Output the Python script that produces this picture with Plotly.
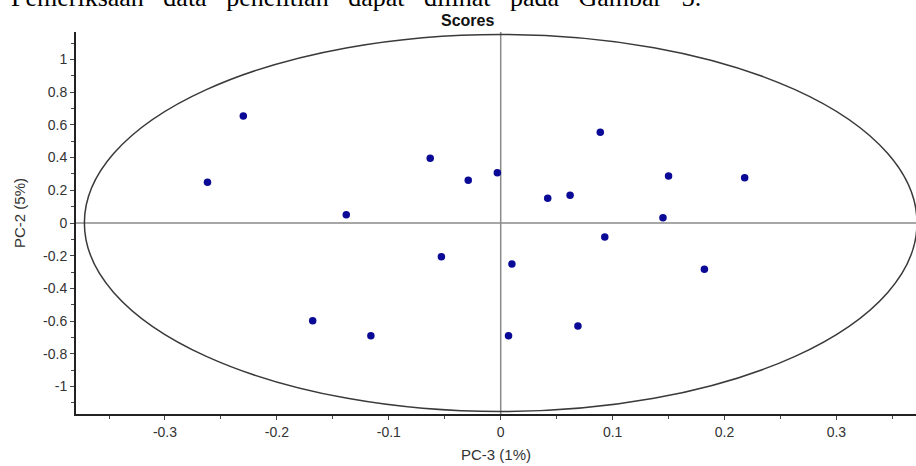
import plotly.graph_objects as go

# PCA scores (PC-3 on x, PC-2 on y)
pc3 = [-0.230, -0.262, -0.138, -0.063, -0.029, -0.003, 0.089, 0.042, 0.062, 0.150,
       0.218, 0.145, 0.093, 0.010, 0.182, -0.053, -0.168, -0.116, 0.007, 0.069]
pc2 = [0.654, 0.249, 0.051, 0.396, 0.261, 0.308, 0.555, 0.151, 0.169, 0.287,
       0.277, 0.032, -0.086, -0.251, -0.283, -0.206, -0.598, -0.689, -0.689, -0.630]

# Hotelling ellipse semi-axes
ell_a = 0.372
ell_b = 1.153

x_tick_vals = [-0.3, -0.2, -0.1, 0, 0.1, 0.2, 0.3]
x_tick_text = ["-0.3", "-0.2", "-0.1", "0", "0.1", "0.2", "0.3"]
y_tick_vals = [1, 0.8, 0.6, 0.4, 0.2, 0, -0.2, -0.4, -0.6, -0.8, -1]
y_tick_text = ["1", "0.8", "0.6", "0.4", "0.2", "0", "-0.2", "-0.4", "-0.6", "-0.8", "-1"]

caption_words = ["Pemeriksaan", "data", "penelitian", "dapat", "dilihat", "pada", "Gambar", "3."]

W, H = 916, 466
L, T, B = 76, 32, 52
PW, PH = W - L, H - T - B


def px(xpage):
    return (xpage - L) / PW


def py(ypage):
    return (H - B - ypage) / PH


fig = go.Figure()
fig.add_trace(go.Scatter(
    x=pc3, y=pc2, mode="markers",
    marker=dict(size=7.5, color="#0a0a96"),
    showlegend=False, hoverinfo="x+y"))

# ellipse
fig.add_shape(type="circle", xref="x", yref="y",
              x0=-ell_a, x1=ell_a, y0=-ell_b, y1=ell_b,
              line=dict(color="#3a3a3a", width=1.5), layer="below")
# crosshair lines
fig.add_shape(type="line", xref="x", yref="paper", x0=0, x1=0, y0=0, y1=1,
              line=dict(color="#8a8a8a", width=1.5), layer="below")
fig.add_shape(type="line", xref="paper", yref="y", x0=0, x1=1, y0=0, y1=0,
              line=dict(color="#8a8a8a", width=1.5), layer="below")

tickfont = dict(family="Liberation Sans, Arial, sans-serif", size=14, color="#333333")

caption = ("\u00a0\u00a0 ").join(caption_words)

fig.update_layout(
    width=W, height=H,
    margin=dict(l=L, r=0, t=T, b=B),
    paper_bgcolor="white", plot_bgcolor="white",
    font=dict(family="Liberation Sans, Arial, sans-serif", color="#333333"),
    xaxis=dict(range=[-0.3795, 0.3711], tickvals=x_tick_vals, ticktext=x_tick_text,
               showgrid=False, zeroline=False, showline=True, linecolor="#222222",
               linewidth=2, ticks="outside", ticklen=4, tickcolor="#444444",
               minor=dict(ticks="outside", dtick=0.05, tick0=0, ticklen=3, tickcolor="#444444"),
               tickfont=tickfont,
               title=dict(text="PC-3 (1%)", font=dict(size=15, color="#333333"), standoff=11)),
    yaxis=dict(range=[-1.168, 1.168], tickvals=y_tick_vals, ticktext=y_tick_text,
               showgrid=False, zeroline=False, showline=True, linecolor="#222222",
               linewidth=2, ticks="outside", ticklen=4, tickcolor="#444444",
               minor=dict(ticks="outside", dtick=0.1, tick0=0, ticklen=3, tickcolor="#444444"),
               tickfont=tickfont),
    annotations=[
        dict(text="PC-2 (5%)", xref="paper", yref="paper",
             x=px(19), y=py(213), xanchor="center", yanchor="middle", textangle=-90,
             showarrow=False, font=dict(size=15, color="#333333")),
        dict(text="<b>Scores</b>", xref="paper", yref="paper",
             x=px(467), y=py(20), xanchor="center", yanchor="middle",
             showarrow=False, font=dict(size=16, color="#111111",
                                        family="Liberation Sans Narrow, Liberation Sans, Arial, sans-serif")),
        dict(text=caption,
             xref="paper", yref="paper", x=px(703), y=py(14),
             xanchor="right", yanchor="bottom", showarrow=False,
             font=dict(size=26, color="#000000", family="Liberation Serif, Times New Roman, serif")),
    ],
)

fig.write_html("out.html", config={"displayModeBar": False},
               post_script="document.body.style.margin='0';")
